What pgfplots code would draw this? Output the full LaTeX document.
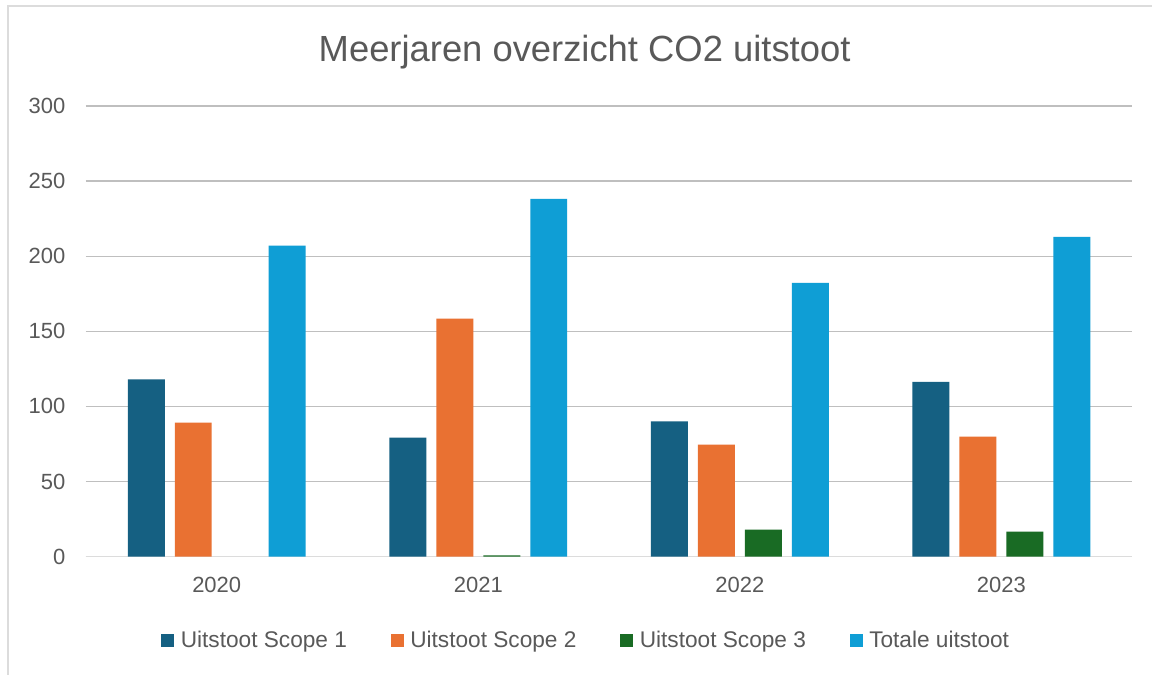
\documentclass[border=0pt]{standalone}
\usepackage{pgfplots}
\pgfplotsset{compat=1.18}
\usepackage{fontspec}
\setmainfont{Liberation Sans}
\definecolor{sone}{HTML}{156082}
\definecolor{stwo}{HTML}{E97132}
\definecolor{sthree}{HTML}{196B24}
\definecolor{stot}{HTML}{0F9ED5}
\definecolor{txt}{HTML}{595959}
\definecolor{grid}{HTML}{DCDCDC}
\begin{document}
\begin{tikzpicture}
\path[fill=white] (0,0) rectangle (864.75pt,-506.25pt);
\draw[grid,line width=1.2pt] (6pt,-506.25pt) -- (6pt,-4.5pt) -- (864.75pt,-4.5pt);
\node[text=txt,font=\fontsize{27.3}{32}\selectfont] at (438.75pt,-39pt) {Meerjaren overzicht CO2 uitstoot};
\begin{axis}[
  at={(64.5pt,-417.75pt)}, anchor=south west,
  scale only axis, width=785.25pt, height=338.25pt,
  ybar=7.5pt, bar width=27.75pt,
  xmin=-0.5, xmax=3.5, ymin=0, ymax=300,
  xtick={0,1,2,3}, xticklabels={2020,2021,2022,2023},
  ytick={0,50,...,300},
  axis x line*=bottom, axis y line*=left,
  x axis line style={grid, line width=1pt, -},
  y axis line style={draw=none},
  major tick length=0pt,
  xmajorgrids=false, ymajorgrids=true, grid style={grid, line width=1pt},
  tick label style={text=txt, font=\fontsize{16.5}{19}\selectfont},
  /pgf/number format/assume math mode=true,
  yticklabel style={xshift=-12pt},
  xticklabel style={yshift=-12pt},
  legend columns=4,
  legend style={at={(rel axis cs:0.4785,-0.186)}, anchor=center, draw=none, fill=none,
    font=\fontsize{17}{20}\selectfont, text=txt,
    /tikz/every odd column/.append style={column sep=3pt},
    /tikz/every even column/.append style={column sep=31pt}},
  legend image code/.code={\fill[#1,draw=none] (0pt,-4.7pt) rectangle (9.5pt,4.8pt);},
  legend cell align=left,
]
\addplot[fill=sone, draw=none] coordinates {(0,118) (1,79.2) (2,90) (3,116.4)};
\addplot[fill=stwo, draw=none] coordinates {(0,89.2) (1,158.4) (2,74.5) (3,79.8)};
\addplot[fill=sthree, draw=none] coordinates {(1,0.8) (2,18) (3,16.6)};
\addplot[fill=stot, draw=none] coordinates {(0,207) (1,238.2) (2,182.3) (3,212.9)};
\legend{Uitstoot Scope 1, Uitstoot Scope 2, Uitstoot Scope 3, Totale uitstoot}
\end{axis}
\end{tikzpicture}
\end{document}
